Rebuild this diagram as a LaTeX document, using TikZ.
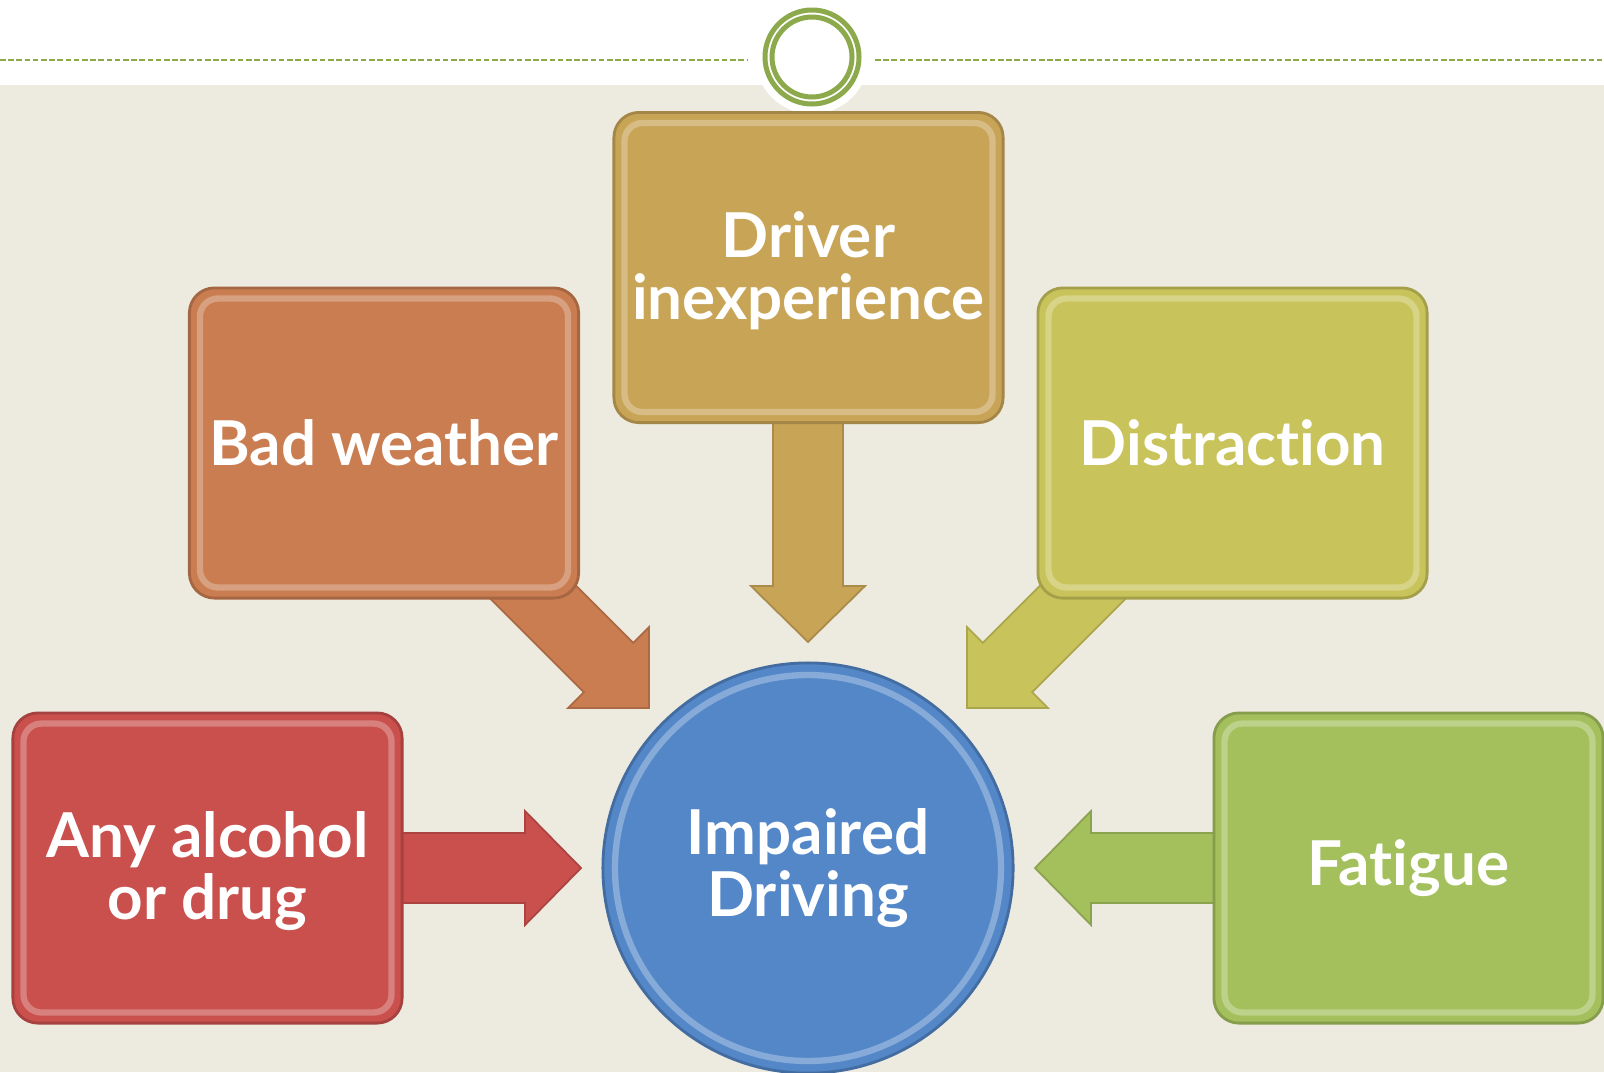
\documentclass[tikz,border=0pt]{standalone}
\usepackage{fontspec}
\setmainfont{Lato}[Ligatures=NoCommon]
\usetikzlibrary{calc}
\definecolor{beige}{HTML}{EDEAE0}
\definecolor{ringgreen}{HTML}{8CA94C}
\definecolor{cdrive}{HTML}{C8A457}
\definecolor{cbad}{HTML}{C97D50}
\definecolor{cdist}{HTML}{C8C35A}
\definecolor{calc}{HTML}{C9504D}
\definecolor{cfat}{HTML}{A3C05D}
\definecolor{cimp}{HTML}{5487C8}
\begin{document}
\begin{tikzpicture}[x=0.01cm,y=-0.01cm,
  box/.style={rectangle, rounded corners=0.25cm, minimum width=3.89cm, minimum height=3.10cm,
    inner sep=0pt, fill=#1, draw=#1!82!black, line width=0.8pt},
  bevel/.style={draw=#1!50!white, line width=1.8pt, rounded corners=0.18cm, opacity=0.55},
  barrow/.style={fill=#1, draw=#1!85!black, line width=0.5pt, line join=miter},
  lbl/.style={align=center, text=white, font=\fontsize{17.6}{17.6}\selectfont\bfseries}
]
% background
\path[use as bounding box, fill=white] (0,0) rectangle (1604,1072);
\fill[beige] (0,85) rectangle (1604,1072);
\fill[white] (812,57) circle[radius=57];
\draw[ringgreen, line width=0.02cm, dash pattern=on 0.055cm off 0.027cm] (0,60) -- (747,60);
\draw[ringgreen, line width=0.02cm, dash pattern=on 0.055cm off 0.027cm] (875,60) -- (1604,60);
\coordinate (ring) at (812,57);
\draw[ringgreen, line width=0.05cm] (ring) circle[radius=47];
\draw[ringgreen, line width=0.05cm] (ring) circle[radius=40];

% block arrows (drawn first, boxes overlap their tails)
\draw[barrow=cdrive] (773,410) -- (773,586) -- (751,586) -- (808,642) -- (865,586) -- (843,586) -- (843,410) -- cycle;
\draw[barrow=calc] (390,833) -- (525,833) -- (525,811) -- (581,868) -- (525,925) -- (525,903) -- (390,903) -- cycle;
\draw[barrow=cfat] (1226,833) -- (1091,833) -- (1091,811) -- (1035,868) -- (1091,925) -- (1091,903) -- (1226,903) -- cycle;
\draw[barrow=cbad] (523.2,532.8) -- (633.2,642.8) -- (649,627) -- (649,708) -- (568,708) -- (583.8,692.2) -- (473.8,582.2) -- cycle;
\draw[barrow=cdist] (1092.8,532.8) -- (982.8,642.8) -- (967,627) -- (967,708) -- (1048,708) -- (1032.2,692.2) -- (1142.2,582.2) -- cycle;

% boxes
\node[box=cdrive] (drv) at (808.5,267.5) {};
\node[box=cbad]   (bad) at (384,443) {};
\node[box=cdist]  (dis) at (1232.5,443) {};
\node[box=calc]   (alc) at (207.5,868) {};
\node[box=cfat]   (fat) at (1408.5,868) {};
\foreach \n/\c in {drv/cdrive, bad/cbad, dis/cdist, alc/calc, fat/cfat}{
  \draw[bevel=\c] ($(\n.north west)+(12,12)$) rectangle ($(\n.south east)+(-12,-12)$);
}
\node[lbl] at ($(drv)+(0,3)$) {Driver\\inexperience};
\node[lbl] at (bad) {Bad weather};
\node[lbl] at (dis) {Distraction};
\node[lbl] at ($(alc)+(0,3)$) {Any alcohol\\or drug};
\node[lbl] at (fat) {Fatigue};

% central circle
\node[circle, minimum size=4.10cm, inner sep=0pt, fill=cimp, draw=cimp!80!black, line width=0.8pt] (imp) at (808,868) {};
\draw[cimp!50!white, line width=1.8pt, opacity=0.6] (imp.center) circle[radius=193];
\node[lbl] at (imp) {Impaired\\Driving};
\end{tikzpicture}
\end{document}
